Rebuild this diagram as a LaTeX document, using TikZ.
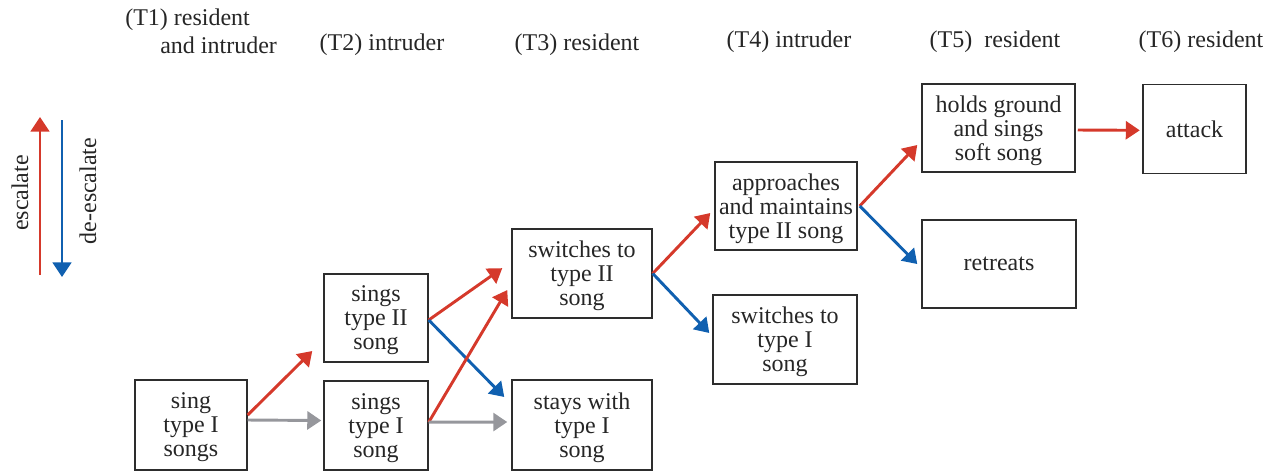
\documentclass[tikz,border=0pt]{standalone}
\usepackage{fontspec}
\setmainfont{Liberation Serif}
\usetikzlibrary{arrows.meta}
\definecolor{esc}{RGB}{213,57,43}
\definecolor{desc}{RGB}{16,96,176}
\definecolor{neut}{RGB}{150,151,156}
\definecolor{frame}{RGB}{45,45,45}
\tikzset{
  box/.style={draw=frame, line width=1.1pt, inner sep=0pt, align=center, text depth=0pt,
    font=\fontsize{18}{18}\selectfont, text=black!85},
  hdr/.style={inner sep=0pt, font=\fontsize{18}{18}\selectfont, text=black!85},
  arr/.style={line width=2.2pt, -{Triangle[length=10.5pt,width=13.5pt]}},
  up/.style={arr, esc},
  down/.style={arr, desc},
  same/.style={arr, neut},
}
\begin{document}
\begin{tikzpicture}[x=0.75pt,y=-0.75pt]
\useasboundingbox (0,0) rectangle (1276,472);
% headers
\node[hdr, anchor=west] (h1a) at (125,20) {(T1) resident};
\node[hdr, anchor=west] (h1b) at (160,45) {and intruder};
\node[hdr] (h2) at (382,45) {(T2) intruder};
\node[hdr] (h3) at (577,45) {(T3) resident};
\node[hdr] (h4) at (789,42) {(T4) intruder};
\node[hdr] (h5) at (995,42) {(T5)\ \ resident};
\node[hdr] (h6) at (1201,42) {(T6) resident};
% legend
\coordinate (la) at (40,275);
\coordinate (lb) at (40,117);
\coordinate (lc) at (62,120);
\coordinate (ld) at (62,277);
\draw[up, -{Triangle[length=11pt,width=14pt]}] (la) -- (lb);
\draw[down, -{Triangle[length=11pt,width=14pt]}] (lc) -- (ld);
\node[hdr, rotate=90] (le) at (20,193) {escalate};
\node[hdr, rotate=90] (ld2) at (88,191) {de-escalate};
% boxes
\node[box, minimum width=84pt, minimum height=67.5pt] (b1) at (191,425) {sing\\type I\\songs};
\node[box, minimum width=78pt, minimum height=66pt] (b2) at (376,318) {sings\\type II\\song};
\node[box, minimum width=78pt, minimum height=66.75pt] (b3) at (376,425.5) {sings\\type I\\song};
\node[box, minimum width=105pt, minimum height=66.75pt] (b4) at (582,273.5) {switches to\\type II\\song};
\node[box, minimum width=105pt, minimum height=67.5pt] (b5) at (582,425) {stays with\\type I\\song};
\node[box, minimum width=106.5pt, minimum height=66pt] (b6) at (786,206) {approaches\\and maintains\\type II song};
\node[box, minimum width=108pt, minimum height=66.75pt] (b7) at (785,339.5) {switches to\\type I\\song};
\node[box, minimum width=114.75pt, minimum height=66pt] (b8) at (998.5,128) {holds ground\\and sings\\soft song};
\node[box, minimum width=115.5pt, minimum height=66pt] (b9) at (999,264) {retreats};
\node[box, minimum width=77pt, minimum height=66.75pt] (b10) at (1194.5,129) {attack};
% connectors
\draw[up] ([yshift=7.5pt]b1.east) -- ([xshift=-8.25pt,yshift=-24.75pt]b2.west);
\draw[same] ([yshift=3.75pt]b1.east) -- ([xshift=-1.5pt,yshift=3.75pt]b3.west);
\draw[up] ([yshift=-1.5pt]b2.east) -- ([xshift=-6.75pt,yshift=4pt]b4.west);
\draw[down] ([yshift=-1.5pt]b2.east) -- ([xshift=-5.25pt,yshift=21pt]b5.west);
\draw[up] ([yshift=2.5pt]b3.east) -- ([xshift=-3pt,yshift=-12.4pt]b4.west);
\draw[same] ([yshift=2.5pt]b3.east) -- ([xshift=-3pt,yshift=2.25pt]b5.west);
\draw[up] (b4.east) -- ([xshift=-3pt,yshift=-5.25pt]b6.west);
\draw[down] (b4.east) -- ([xshift=-2.25pt,yshift=4.9pt]b7.west);
\draw[up] ([xshift=1.5pt]b6.east) -- ([xshift=-3pt,yshift=-12.75pt]b8.west);
\draw[down] ([xshift=1.5pt]b6.east) -- ([xshift=-3pt]b9.west);
\draw[up] ([xshift=1.5pt,yshift=-1.5pt]b8.east) -- ([xshift=-2pt,yshift=-1pt]b10.west);
\end{tikzpicture}
\end{document}
